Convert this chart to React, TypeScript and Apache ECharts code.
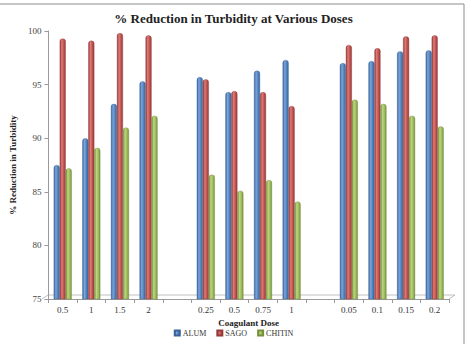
import React, { useEffect, useRef } from "react";
import * as echarts from "echarts";

// Coagulant doses, three dose groups separated by an empty slot
const doseLabels = ["0.5", "1", "1.5", "2", "", "0.25", "0.5", "0.75", "1", "", "0.05", "0.1", "0.15", "0.2"];

// % reduction in turbidity for each coagulant
const alum = [87.5, 90.0, 93.2, 95.3, null, 95.7, 94.3, 96.3, 97.3, null, 97.0, 97.2, 98.1, 98.2];
const sago = [99.3, 99.1, 99.8, 99.6, null, 95.5, 94.4, 94.3, 93.0, null, 98.7, 98.4, 99.5, 99.6];
const chitin = [87.2, 89.1, 91.0, 92.1, null, 86.6, 85.1, 86.1, 84.1, null, 93.6, 93.2, 92.1, 91.1];

const yTicks = { min: 75, max: 100, step: 5 };

const SERIF = "'Liberation Serif', 'DejaVu Serif', serif";

function cylinder(dark: string, mid: string, light: string) {
  return new echarts.graphic.LinearGradient(0, 0, 1, 0, [
    { offset: 0, color: dark },
    { offset: 0.35, color: light },
    { offset: 0.7, color: mid },
    { offset: 1, color: dark },
  ]);
}

export default function App() {
  const ref = useRef<HTMLDivElement>(null);

  useEffect(() => {
    if (!ref.current) return;
    const chart = echarts.init(ref.current, undefined, { renderer: "svg" });

    const barSeries = (name: string, data: (number | null)[], dark: string, mid: string, light: string) => ({
      name,
      type: "bar" as const,
      data,
      barWidth: 6,
      barGap: "0%",
      itemStyle: {
        color: cylinder(dark, mid, light),
        borderRadius: [3, 3, 0, 0],
        borderColor: dark,
        borderWidth: 0.4,
      },
    });

    chart.setOption({
      animation: false,
      backgroundColor: "#ffffff",
      color: ["#4F81BD", "#C0504D", "#9BBB59"],
      title: {
        text: "% Reduction in Turbidity at Various Doses",
        left: "center",
        top: 7,
        textStyle: { fontFamily: SERIF, fontSize: 13, fontWeight: "bold", color: "#222" },
      },
      grid: { left: 42, right: 18, top: 31, bottom: 45, containLabel: false },
      legend: {
        data: ["ALUM", "SAGO", "CHITIN"],
        top: 329,
        left: "center",
        padding: [0, 5],
        icon: "rect",
        itemWidth: 5,
        itemHeight: 5,
        itemGap: 10,
        textStyle: { fontFamily: SERIF, fontSize: 8, color: "#333", padding: [0, 0, 0, -2] },
      },
      xAxis: {
        type: "category",
        data: doseLabels,
        name: "Coagulant Dose",
        nameLocation: "middle",
        nameGap: 17,
        nameTextStyle: { fontFamily: SERIF, fontSize: 9, fontWeight: "bold", color: "#222" },
        axisLine: { show: true, lineStyle: { color: "#9a9a9a", width: 1 } },
        axisTick: { show: true, length: 4, lineStyle: { color: "#9a9a9a" } },
        axisLabel: { fontFamily: SERIF, fontSize: 9, color: "#333", margin: 6, interval: 0 },
      },
      yAxis: {
        type: "value",
        min: yTicks.min,
        max: yTicks.max,
        interval: yTicks.step,
        name: "% Reduction in Turbidity",
        nameLocation: "middle",
        nameGap: 24,
        nameTextStyle: { fontFamily: SERIF, fontSize: 9, fontWeight: "bold", color: "#222" },
        axisLine: { show: true, lineStyle: { color: "#9a9a9a", width: 1 } },
        axisTick: { show: true, length: 4, lineStyle: { color: "#9a9a9a" } },
        axisLabel: { fontFamily: SERIF, fontSize: 9, color: "#444", margin: 7 },
        splitLine: { show: false },
      },
      graphic: [
        // outer frame of the chart area (top and right edges)
        {
          type: "rect",
          shape: { x: -2, y: 4, width: 466, height: 346 },
          style: { fill: "none", stroke: "#8c8c8c", lineWidth: 1 },
          silent: true,
        },
        // thin perspective floor under the bars
        {
          type: "polyline",
          shape: { points: [[42, 299], [48, 295], [455, 295], [449, 299]] },
          style: { fill: "none", stroke: "#b0b0b0", lineWidth: 0.8 },
          silent: true,
        },
      ],
      series: [
        barSeries("ALUM", alum, "#3A6499", "#4F81BD", "#7BA4DA"),
        barSeries("SAGO", sago, "#933B39", "#C0504D", "#DC7C79"),
        barSeries("CHITIN", chitin, "#76913E", "#9BBB59", "#BCD684"),
      ],
    });

    return () => chart.dispose();
  }, []);

  return (
    <div
      ref={ref}
      style={{ position: "fixed", left: 0, top: 0, width: 467, height: 344 }}
    />
  );
}
